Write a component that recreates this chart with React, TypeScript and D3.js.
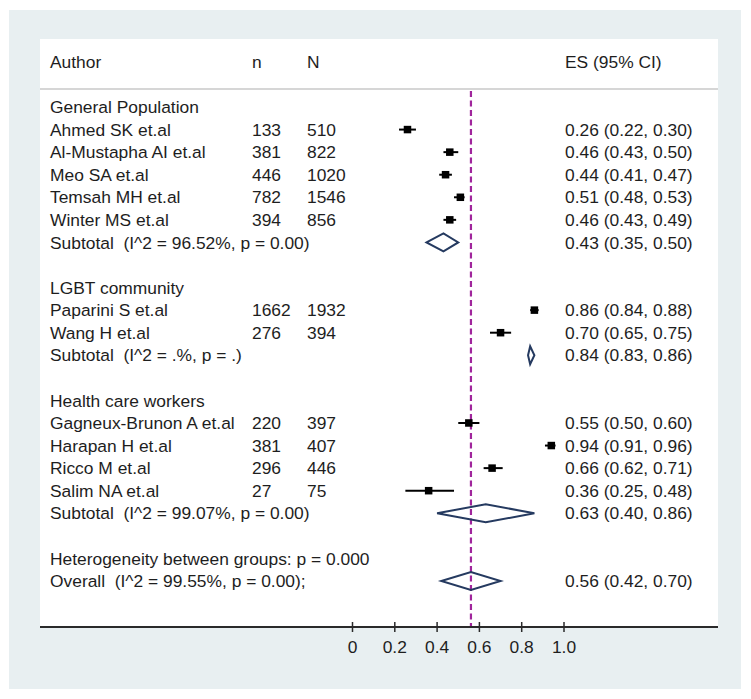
import React from "react";
import * as d3 from "d3";

type Row = {
  kind: "group" | "study" | "subtotal" | "het" | "overall";
  label: string;
  n?: string;
  N?: string;
  es?: number;
  lo?: number;
  hi?: number;
  esText?: string;
};

const groupNames = ["General Population", "LGBT community", "Health care workers"];

const studyAuthors = [
  ["Ahmed SK et.al", "Al-Mustapha AI et.al", "Meo SA et.al", "Temsah MH et.al", "Winter MS et.al"],
  ["Paparini S et.al", "Wang H et.al"],
  ["Gagneux-Brunon A et.al", "Harapan H et.al", "Ricco M et.al", "Salim NA et.al"],
];
const studyN_small = [
  ["133", "381", "446", "782", "394"],
  ["1662", "276"],
  ["220", "381", "296", "27"],
];
const studyN_total = [
  ["510", "822", "1020", "1546", "856"],
  ["1932", "394"],
  ["397", "407", "446", "75"],
];
const studyES = [
  [0.26, 0.46, 0.44, 0.51, 0.46],
  [0.86, 0.70],
  [0.55, 0.94, 0.66, 0.36],
];
const studyLo = [
  [0.22, 0.43, 0.41, 0.48, 0.43],
  [0.84, 0.65],
  [0.50, 0.91, 0.62, 0.25],
];
const studyHi = [
  [0.30, 0.50, 0.47, 0.53, 0.49],
  [0.88, 0.75],
  [0.60, 0.96, 0.71, 0.48],
];
const subtotalLabels = [
  "Subtotal  (I^2 = 96.52%, p = 0.00)",
  "Subtotal  (I^2 = .%, p = .)",
  "Subtotal  (I^2 = 99.07%, p = 0.00)",
];
const subtotalES = [0.43, 0.84, 0.63];
const subtotalLo = [0.35, 0.83, 0.40];
const subtotalHi = [0.50, 0.86, 0.86];

const hetLabel = "Heterogeneity between groups: p = 0.000";
const overallLabel = "Overall  (I^2 = 99.55%, p = 0.00);";
const overallES = 0.56;
const overallLo = 0.42;
const overallHi = 0.70;

const tickValues = [0, 0.2, 0.4, 0.6, 0.8, 1.0];
const tickLabels = ["0", "0.2", "0.4", "0.6", "0.8", "1.0"];

const fmt = d3.format(".2f");
const esLabel = (e: number, l: number, h: number) => `${fmt(e)} (${fmt(l)}, ${fmt(h)})`;

function buildRows(): Row[] {
  const rows: Row[] = [];
  groupNames.forEach((g, gi) => {
    rows.push({ kind: "group", label: g });
    studyAuthors[gi].forEach((a, i) => {
      rows.push({
        kind: "study",
        label: a,
        n: studyN_small[gi][i],
        N: studyN_total[gi][i],
        es: studyES[gi][i],
        lo: studyLo[gi][i],
        hi: studyHi[gi][i],
        esText: esLabel(studyES[gi][i], studyLo[gi][i], studyHi[gi][i]),
      });
    });
    rows.push({
      kind: "subtotal",
      label: subtotalLabels[gi],
      es: subtotalES[gi],
      lo: subtotalLo[gi],
      hi: subtotalHi[gi],
      esText: esLabel(subtotalES[gi], subtotalLo[gi], subtotalHi[gi]),
    });
    rows.push({ kind: "group", label: "" });
  });
  rows.push({ kind: "het", label: hetLabel });
  rows.push({
    kind: "overall",
    label: overallLabel,
    es: overallES,
    lo: overallLo,
    hi: overallHi,
    esText: esLabel(overallES, overallLo, overallHi),
  });
  return rows;
}

export default function App() {
  const W = 751;
  const H = 699;
  const rows = buildRows();

  const x = d3.scaleLinear().domain([0, 1]).range([352.5, 564]);
  const y = d3.scaleLinear().domain([0, 1]).range([107, 107 + 22.57]);

  const font = "'Liberation Sans', Arial, sans-serif";
  const fs = 17.4;
  const textColor = "#1e1e1e";
  const dy = 6.2;

  const colAuthor = 50;
  const colN = 252;
  const colNN = 307;
  const colES = 565;

  const panelL = 40, panelR = 718, panelT = 39, axisY = 627;
  const boxSize = 7.5;
  const diamondH = 9;

  return (
    <div style={{ position: "absolute", left: 0, top: 0 }}>
      <svg width={W} height={H} style={{ display: "block" }}>
        <rect x={0} y={0} width={W} height={H} fill="#ffffff" />
        <rect x={9} y={10} width={732} height={679} fill="#e8eff1" />
        <rect x={panelL} y={panelT} width={panelR - panelL} height={axisY - panelT} fill="#ffffff" />
        <line x1={panelL} x2={panelR} y1={89} y2={89} stroke="#c8c8c8" strokeWidth={1.5} />

        <g fontFamily={font} fontSize={fs} fill={textColor}>
          <text x={colAuthor} y={62 + dy}>Author</text>
          <text x={colN} y={62 + dy}>n</text>
          <text x={colNN} y={62 + dy}>N</text>
          <text x={colES} y={62 + dy}>ES (95% CI)</text>
        </g>

        {/* reference dashed line at overall estimate */}
        <line
          x1={x(overallES)}
          x2={x(overallES)}
          y1={91}
          y2={axisY}
          stroke="#a0259c"
          strokeWidth={2.2}
          strokeDasharray="6,3.5"
        />

        <g fontFamily={font} fontSize={fs} fill={textColor} style={{ whiteSpace: "pre" }}>
          {rows.map((r, i) => {
            const cy = y(i);
            return (
              <g key={i}>
                {r.label && (
                  <text x={colAuthor} y={cy + dy} xmlSpace="preserve">{r.label}</text>
                )}
                {r.n && <text x={colN} y={cy + dy}>{r.n}</text>}
                {r.N && <text x={colNN} y={cy + dy}>{r.N}</text>}
                {r.esText && <text x={colES} y={cy + dy}>{r.esText}</text>}
              </g>
            );
          })}
        </g>

        {rows.map((r, i) => {
          const cy = y(i);
          if (r.kind === "study" && r.es !== undefined) {
            return (
              <g key={"m" + i}>
                <line x1={x(r.lo!)} x2={x(r.hi!)} y1={cy} y2={cy} stroke="#000" strokeWidth={2} />
                <rect
                  x={x(r.es) - boxSize / 2}
                  y={cy - boxSize / 2}
                  width={boxSize}
                  height={boxSize}
                  fill="#000"
                />
              </g>
            );
          }
          if ((r.kind === "subtotal" || r.kind === "overall") && r.es !== undefined) {
            const pts = [
              [x(r.lo!), cy],
              [x(r.es), cy - diamondH],
              [x(r.hi!), cy],
              [x(r.es), cy + diamondH],
            ];
            return (
              <polygon
                key={"d" + i}
                points={pts.map((p) => p.join(",")).join(" ")}
                fill="none"
                stroke="#253a60"
                strokeWidth={2}
                strokeLinejoin="miter"
              />
            );
          }
          return null;
        })}

        {/* axis */}
        <line x1={panelL} x2={panelR} y1={axisY} y2={axisY} stroke="#2a2a2a" strokeWidth={2} />
        {tickValues.map((t, i) => (
          <g key={"t" + i}>
            <line x1={x(t)} x2={x(t)} y1={axisY - 5} y2={axisY + 5} stroke="#2a2a2a" strokeWidth={1.5} />
            <text
              x={x(t)}
              y={647 + dy}
              textAnchor="middle"
              fontFamily={font}
              fontSize={fs}
              fill={textColor}
            >
              {tickLabels[i]}
            </text>
          </g>
        ))}
      </svg>
    </div>
  );
}
